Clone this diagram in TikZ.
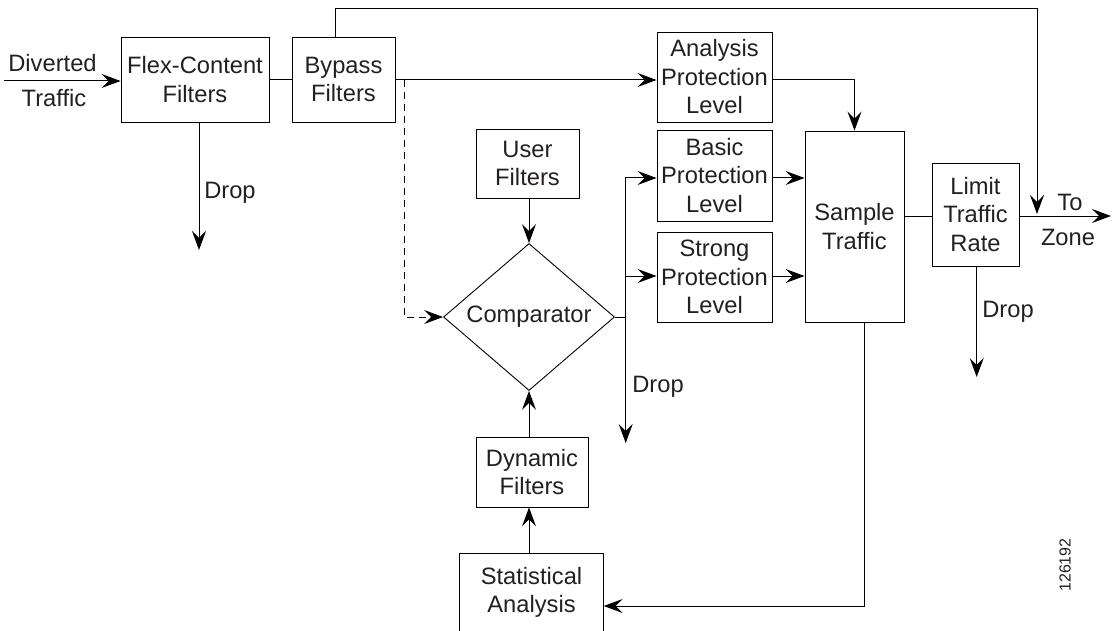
\documentclass[tikz,border=0pt]{standalone}
\usepackage{fontspec}
\setmainfont{Liberation Sans}
\usetikzlibrary{arrows.meta,shapes.geometric}
\definecolor{ink}{HTML}{231F20}
\tikzset{
  box/.style={draw, line width=0.9pt, inner sep=0pt, align=center, text=ink, font=\fontsize{23.7}{28.5}\selectfont},
  lbl/.style={inner sep=0pt, align=center, text=ink, font=\fontsize{23.7}{28.5}\selectfont},
  ln/.style={line width=1pt},
  arr/.style={line width=1pt, -{Stealth[length=19pt,width=14pt,inset=7pt]}},
  dsh/.style={line width=1pt, dash pattern=on 7pt off 5pt, -{Stealth[length=19pt,width=14pt,inset=7pt]}}
}
\begin{document}
\begin{tikzpicture}[x=1pt,y=-1pt]
\useasboundingbox (0,0) rectangle (1113,631);
% boxes
\node[box, minimum width=148pt, minimum height=85pt] (flex) at (195,79.5) {Flex-Content\\Filters};
\node[box, minimum width=103pt, minimum height=85pt] (bypass) at (343.5,79.5) {Bypass\\Filters};
\node[box, minimum width=115pt, minimum height=90pt] (analysis) at (714.5,77) {Analysis\\Protection\\Level};
\node[box, minimum width=103pt, minimum height=69pt] (user) at (527.5,163.5) {User\\Filters};
\node[box, minimum width=115pt, minimum height=91pt] (basic) at (714.5,175.5) {Basic\\Protection\\Level};
\node[box, minimum width=115pt, minimum height=90pt] (strong) at (714.5,277) {Strong\\Protection\\Level};
\node[box, diamond, aspect=1.163, minimum width=171pt, minimum height=147pt] (comp) at (529,317) {};
\node[lbl] (comptext) at (comp.center) {Comparator};
\node[box, minimum width=99pt, minimum height=191pt] (sample) at (854.5,226.5) {Sample\\Traffic};
\node[box, minimum width=87pt, minimum height=103pt] (limit) at (975.5,214.5) {Limit\\Traffic\\Rate};
\node[box, minimum width=112pt, minimum height=70pt] (dynamic) at (532,472) {Dynamic\\Filters};
\node[lbl, minimum width=144pt, minimum height=78pt] (stat) at (531.5,592.5) {Statistical\\Analysis};
\draw[ln, line width=0.9pt] (stat.south west) -- (stat.north west) -- (stat.north east) -- (stat.south east);
% labels
\node[lbl] (ldiv) at (52.5,63) {Diverted};
\node[lbl] (ltra) at (54,98) {Traffic};
\node[lbl] (ldrop1) at (230,193) {Drop};
\node[lbl] (ldrop2) at (658,387) {Drop};
\node[lbl] (ldrop3) at (1008,312) {Drop};
\node[lbl] (lto) at (1070,202) {To};
\node[lbl] (lzone) at (1068,237) {Zone};
\node[inner sep=0pt, rotate=90, text=ink, font=\fontsize{16}{18}\selectfont] (fig) at (1065,565) {126192};
% coordinates
\coordinate (din) at (4,81);
\coordinate (fdrop) at (199,250);
\coordinate (tl) at (335,9);
\coordinate (tz) at (1037,214);
\coordinate (dsplit) at (404,80);
\coordinate (cj) at (625.7,317);
\coordinate (cdrop) at (625.7,443);
\coordinate (zone) at (1111,216);
\coordinate (ldrop) at (976.7,377);
\coordinate (sb) at (864.3,606);
% connectors
\draw[arr] (din) -- (din -| flex.west);
\draw[ln] (flex.east |- dsplit) -- (bypass.west |- dsplit);
\draw[arr] (fdrop |- flex.south) -- (fdrop);
\draw[arr] (tl |- bypass.north) -- (tl) -| (tz);
\draw[arr] (bypass.east |- dsplit) -- (analysis.west |- dsplit);
\draw[dsh] (dsplit) |- (comp.west);
\draw[arr] (analysis.east |- dsplit) -| (sample.north);
\draw[arr] (comp.north |- user.south) -- (comp.north);
\draw[ln] (comp.east) -- (cj);
\draw[arr] (cj) |- (basic.west |- 0,178);
\draw[arr] (cj) |- (strong.west |- 0,276);
\draw[arr] (cj) -- (cdrop);
\draw[arr] (basic.east |- 0,178) -- (sample.west |- 0,178);
\draw[arr] (strong.east |- 0,276) -- (sample.west |- 0,276);
\draw[ln] (sample.east |- zone) -- (limit.west |- zone);
\draw[arr] (limit.east |- zone) -- (zone);
\draw[arr] (ldrop |- limit.south) -- (ldrop);
\draw[arr] (sb |- sample.south) -- (sb) -- (stat.east |- sb);
\draw[arr] (comp.south |- stat.north) -- (comp.south |- dynamic.south);
\draw[arr] (comp.south |- dynamic.north) -- (comp.south);
\end{tikzpicture}
\end{document}
